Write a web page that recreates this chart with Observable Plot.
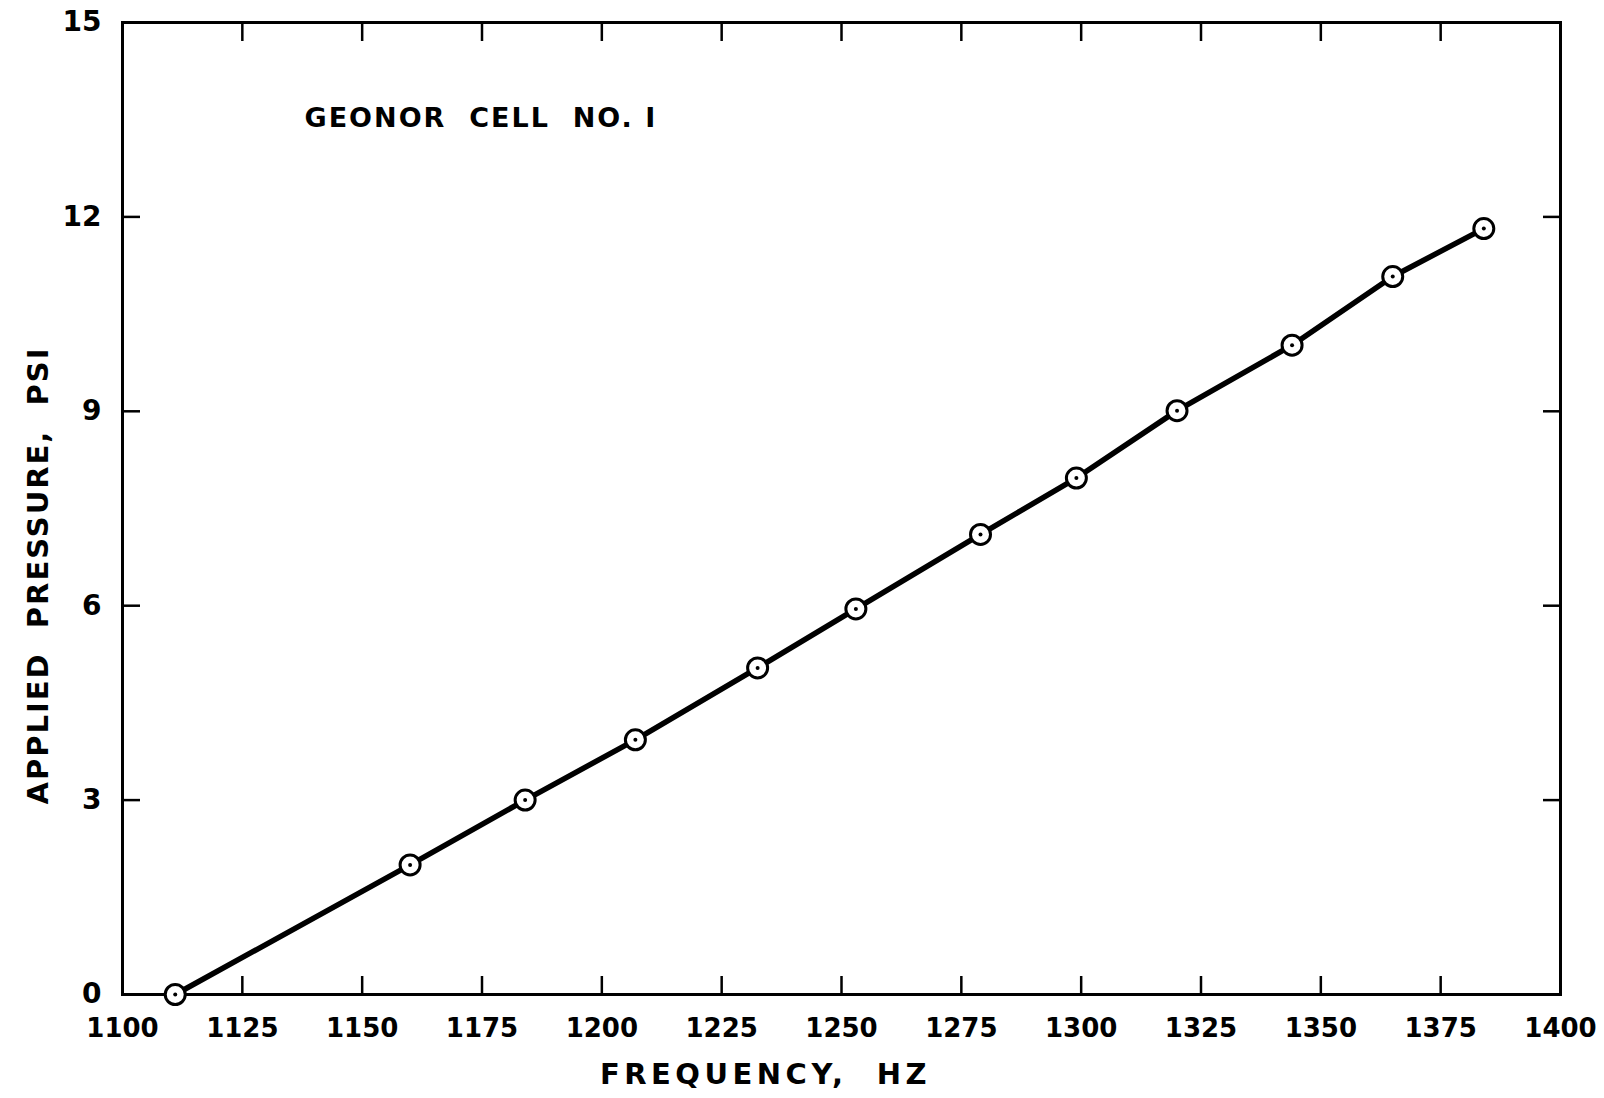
<!DOCTYPE html>
<html>
<head>
<meta charset="utf-8">
<script src="https://cdn.jsdelivr.net/npm/d3@7"></script>
<script src="https://cdn.jsdelivr.net/npm/@observablehq/plot@0.6"></script>
<style>
  html, body { margin: 0; padding: 0; background: #fff; }
  #chart svg { display: block; }
  #chart svg text { font-family: "DejaVu Sans", sans-serif; fill: #000; font-weight: bold; }
  #chart svg g.title-text text { white-space: pre; letter-spacing: 2px; }
  #chart svg g.axis-title text { white-space: pre; letter-spacing: 4.5px; }
</style>
</head>
<body>
<div id="chart"></div>
<script>
// Data
const frequencyHz = [1111, 1160, 1184, 1207, 1232.5, 1253, 1279, 1299, 1320, 1344, 1365, 1384];
const pressurePsi = [0, 2.0, 3.0, 3.93, 5.04, 5.95, 7.1, 7.97, 9.01, 10.02, 11.08, 11.82];
const xTicks = [1100, 1125, 1150, 1175, 1200, 1225, 1250, 1275, 1300, 1325, 1350, 1375, 1400];
const yTicks = [0, 3, 6, 9, 12, 15];
const xTitle = "FREQUENCY,  HZ";
const yTitle = "APPLIED  PRESSURE,  PSI";
const annotation = "GEONOR  CELL  NO. I";

const data = frequencyHz.map((f, i) => ({f, p: pressurePsi[i]}));
const fmt = d3.format("d");

const chart = Plot.plot({
  width: 1604,
  height: 1098,
  marginLeft: 122,
  marginRight: 44,
  marginTop: 22,
  marginBottom: 104,
  style: {fontFamily: "DejaVu Sans, sans-serif", fontSize: "27px", background: "#fff", color: "#000"},
  x: {domain: [1100, 1400]},
  y: {domain: [0, 15]},
  marks: [
    Plot.frame({stroke: "#000", strokeWidth: 3}),
    Plot.axisX({anchor: "bottom", ticks: xTicks, tickSize: -18, tickPadding: 42, strokeWidth: 2.5, label: null, tickFormat: fmt, fontSize: 26}),
    Plot.axisX({anchor: "top", ticks: xTicks, tickSize: -18, tickFormat: () => "", strokeWidth: 2.5, label: null}),
    Plot.axisY({anchor: "left", ticks: yTicks, tickSize: -18, tickPadding: 39, strokeWidth: 2.5, label: null, tickFormat: fmt, fontSize: 28}),
    Plot.axisY({anchor: "right", ticks: yTicks, tickSize: -18, tickFormat: () => "", strokeWidth: 2.5, label: null}),
    Plot.line(data, {x: "f", y: "p", stroke: "#000", strokeWidth: 5.5}),
    Plot.dot(data, {x: "f", y: "p", r: 10, fill: "#fff", stroke: "#000", strokeWidth: 3}),
    Plot.dot(data, {x: "f", y: "p", r: 2, fill: "#000", stroke: null}),
    Plot.text([annotation], {text: d => d, frameAnchor: "top-left", dx: 182, dy: 96, textAnchor: "start", lineAnchor: "middle", fontSize: 27, className: "title-text"}),
    Plot.text([xTitle], {text: d => d, frameAnchor: "bottom", dx: -76, dy: 80, textAnchor: "middle", lineAnchor: "middle", fontSize: 29, className: "axis-title"}),
    Plot.text([yTitle], {text: d => d, frameAnchor: "left", dx: -84, dy: 67, rotate: -90, textAnchor: "middle", lineAnchor: "middle", fontSize: 29, className: "title-text"})
  ]
});
document.getElementById("chart").appendChild(chart);
</script>
</body>
</html>
